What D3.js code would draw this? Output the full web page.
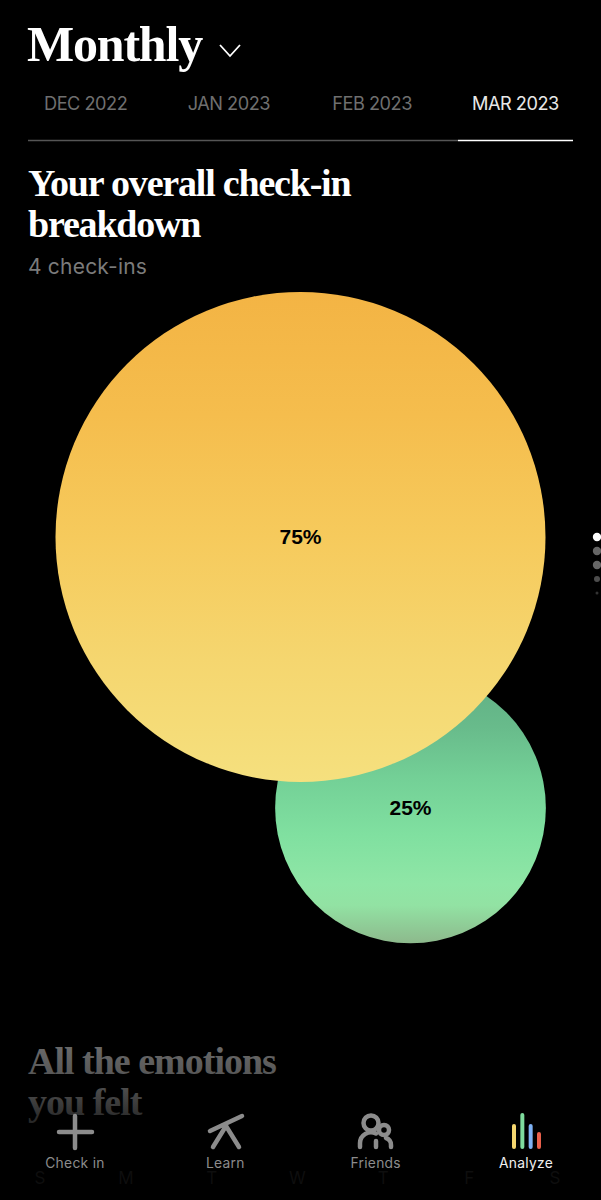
<!DOCTYPE html>
<html>
<head>
<meta charset="utf-8">
<title>Monthly</title>
<style>
    html, body { margin: 0; padding: 0; background: #000; }
    svg { display: block; }
    .serif { font-family: "Liberation Serif", serif; font-weight: 700; }
    .sans { font-family: "Liberation Sans", sans-serif; }
    .ui { font-family: Inter, sans-serif; }
</style>
<script src="https://d3js.org/d3.v7.min.js"></script>
</head>
<body>
<script>
const months = ["DEC 2022", "JAN 2023", "FEB 2023", "MAR 2023"];
const categories = ["Pleasant", "Calm"];
const shares = [75, 25];
const navLabels = ["Check in", "Learn", "Friends", "Analyze"];
const weekDays = ["S", "M", "T", "W", "T", "F", "S"];
const pageDots = [1, 0.4, 0.4, 0.3, 0.2];
const analyzeBars = [0.66, 1, 0.66, 0.41];

const width = 601, height = 1200;
const svg = d3.select("body").append("svg").attr("width", width).attr("height", height);
const defs = svg.append("defs");

function gradient(id, stops) {
    const g = defs.append("linearGradient").attr("id", id).attr("x1", 0).attr("x2", 0).attr("y1", 0).attr("y2", 1);
    stops.forEach(s => g.append("stop").attr("offset", s[0]).attr("stop-color", s[1]));
}
gradient("grad-Pleasant", [[0, "#f3b444"], [0.25, "#f5bd4d"], [0.5, "#f6ca5c"], [0.75, "#f5d66f"], [1, "#f5e07e"]]);
gradient("grad-Calm", [[0, "#5fae84"], [0.2, "#68bb8b"], [0.4, "#74d197"], [0.6, "#80e0a0"], [0.78, "#8fe6a6"], [0.86, "#92e2a3"], [1, "#8db98c"]]);

// header
svg.append("text").attr("class", "serif").attr("x", 27).attr("y", 61).attr("font-size", 50).attr("letter-spacing", -1.2).attr("fill", "#fff").text("Monthly");
svg.append("path").attr("d", "M220 45 L230 56 L240 45").attr("fill", "none").attr("stroke", "#fff").attr("stroke-width", 1.8);

const xMonth = d3.scaleBand().domain(months).range([14, 587]);
svg.append("g").selectAll("text").data(months).join("text")
    .attr("class", "ui")
    .attr("x", d => xMonth(d) + xMonth.bandwidth() / 2)
    .attr("y", 110)
    .attr("text-anchor", "middle")
    .attr("font-size", 18.2)
    .attr("letter-spacing", -0.5)
    .attr("fill", d => d === "MAR 2023" ? "#e8e8e8" : "#6f6f6f")
    .text(d => d);
svg.append("line").attr("x1", 28).attr("x2", 458).attr("y1", 140.5).attr("y2", 140.5).attr("stroke", "#555").attr("stroke-width", 1.5);
svg.append("line").attr("x1", 458).attr("x2", 573).attr("y1", 140.5).attr("y2", 140.5).attr("stroke", "#fff").attr("stroke-width", 1.5);

svg.append("text").attr("class", "serif").attr("x", 28).attr("y", 196).attr("font-size", 38).attr("letter-spacing", -1.2).attr("fill", "#fff").text("Your overall check-in");
svg.append("text").attr("class", "serif").attr("x", 28).attr("y", 237).attr("font-size", 38).attr("letter-spacing", -1.2).attr("fill", "#fff").text("breakdown");
svg.append("text").attr("class", "ui").attr("x", 28).attr("y", 274).attr("font-size", 21).attr("letter-spacing", 0.2).attr("fill", "#7b7b7b").text("4 check-ins");

// bubbles, area-ish scale
const r = d3.scalePow().exponent(0.54).domain([0, 75]).range([0, 245]);
const cx = d3.scalePoint().domain(categories).range([300.5, 410.5]);
const cy = d3.scalePoint().domain(categories).range([537, 808]);
const bubbleData = categories.map((c, i) => ({ name: c, value: shares[i] }));

const bubbles = svg.append("g").selectAll("g").data(bubbleData.slice().reverse()).join("g");
bubbles.append("circle")
    .attr("cx", d => cx(d.name))
    .attr("cy", d => cy(d.name))
    .attr("r", d => r(d.value))
    .attr("fill", d => `url(#grad-${d.name})`);
bubbles.append("text")
    .attr("class", "sans")
    .attr("x", d => cx(d.name))
    .attr("y", d => cy(d.name))
    .attr("dy", "0.34em")
    .attr("text-anchor", "middle")
    .attr("font-size", 21)
    .attr("font-weight", 700)
    .attr("fill", "#000")
    .text(d => d.value + "%");

// next section fading under the nav
const fu = defs.append("linearGradient").attr("id", "fadeUser").attr("gradientUnits", "userSpaceOnUse").attr("x1", 0).attr("x2", 0).attr("y1", 1045).attr("y2", 1125);
fu.append("stop").attr("offset", 0).attr("stop-color", "#6a6a6a");
fu.append("stop").attr("offset", 0.5).attr("stop-color", "#505050");
fu.append("stop").attr("offset", 1).attr("stop-color", "#242424");
const fadeText = svg.append("g").attr("class", "serif").attr("font-size", 38).attr("letter-spacing", -1).attr("fill", "url(#fadeUser)");
fadeText.append("text").attr("x", 28).attr("y", 1074).text("All the emotions");
fadeText.append("text").attr("x", 28).attr("y", 1115).text("you felt");

const xDay = d3.scalePoint().domain(d3.range(7)).range([40, 555]);
svg.append("g").selectAll("text").data(weekDays).join("text")
    .attr("class", "ui")
    .attr("x", (d, i) => xDay(i))
    .attr("y", 1184)
    .attr("text-anchor", "middle")
    .attr("font-size", 17)
    .attr("fill", "#0e0e0e")
    .text(d => d);

// bottom nav
const xNav = d3.scalePoint().domain(navLabels).range([75, 526]);
svg.append("g").selectAll("text").data(navLabels).join("text")
    .attr("class", "ui")
    .attr("x", d => xNav(d))
    .attr("y", 1168)
    .attr("text-anchor", "middle")
    .attr("font-size", 13.8)
    .attr("letter-spacing", 0.3)
    .attr("fill", d => d === "Analyze" ? "#f0f0f0" : "#8c8c8c")
    .text(d => d);

const icon = svg.append("g").attr("fill", "none").attr("stroke", "#8c8c8c").attr("stroke-width", 4.5).attr("stroke-linecap", "round");
icon.append("path").attr("d", "M75 1116 V1148 M59 1132 H92");
icon.append("path").attr("d", "M210 1131 L242 1116 M226 1126 L213 1147 M226 1126 L239 1147");
icon.append("circle").attr("cx", 371).attr("cy", 1123).attr("r", 7.5);
icon.append("circle").attr("cx", 384).attr("cy", 1130).attr("r", 5);
icon.append("path").attr("d", "M360 1147 V1143 A11 11 0 0 1 376 1133.5 M376 1147 V1141 M391 1147 V1145 A7 7 0 0 0 386 1138");

const barColors = ["#f5d66f", "#7fdc9d", "#7fb2f5", "#e8604c"];
const xBar = d3.scalePoint().domain(d3.range(4)).range([514, 539]);
const hBar = d3.scaleLinear().domain([0, 1]).range([0, 32]);
svg.append("g").selectAll("line").data(analyzeBars).join("line")
    .attr("x1", (d, i) => xBar(i)).attr("x2", (d, i) => xBar(i))
    .attr("y1", 1147).attr("y2", d => 1147 - hBar(d))
    .attr("stroke", (d, i) => barColors[i])
    .attr("stroke-width", 4)
    .attr("stroke-linecap", "round");

// page dots on the right
const yDot = d3.scalePoint().domain(d3.range(5)).range([537, 593]);
const dotR = [4.2, 4.2, 4.2, 3, 1.5];
svg.append("g").selectAll("circle").data(pageDots).join("circle")
    .attr("cx", 597)
    .attr("cy", (d, i) => yDot(i))
    .attr("r", (d, i) => dotR[i])
    .attr("fill", "#fff")
    .attr("fill-opacity", d => d);
</script>
</body>
</html>
